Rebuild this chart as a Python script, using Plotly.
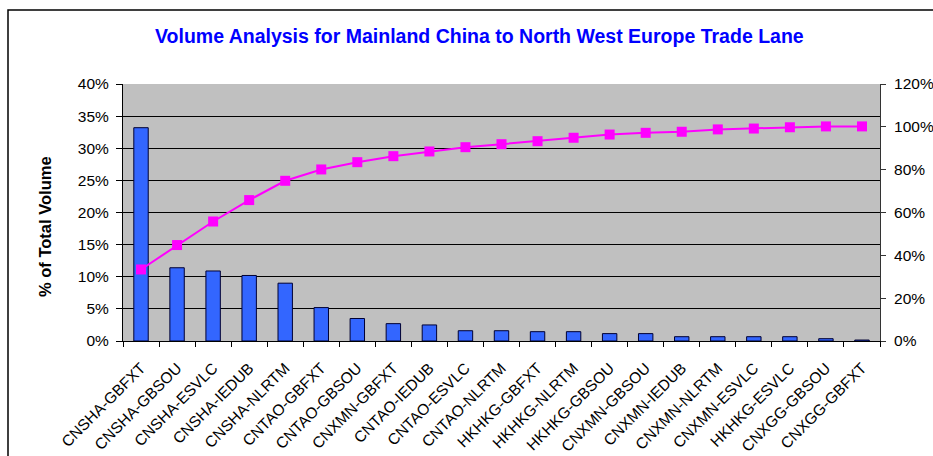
import plotly.graph_objects as go

categories = ["CNSHA-GBFXT", "CNSHA-GBSOU", "CNSHA-ESVLC", "CNSHA-IEDUB", "CNSHA-NLRTM",
              "CNTAO-GBFXT", "CNTAO-GBSOU", "CNXMN-GBFXT", "CNTAO-IEDUB", "CNTAO-ESVLC",
              "CNTAO-NLRTM", "HKHKG-GBFXT", "HKHKG-NLRTM", "HKHKG-GBSOU", "CNXMN-GBSOU",
              "CNXMN-IEDUB", "CNXMN-NLRTM", "CNXMN-ESVLC", "HKHKG-ESVLC", "CNXGG-GBSOU",
              "CNXGG-GBFXT"]
share_pct = [33.2, 11.4, 10.9, 10.2, 9.0, 5.2, 3.5, 2.7, 2.5, 1.6, 1.6, 1.45, 1.45,
             1.15, 1.15, 0.67, 0.67, 0.67, 0.67, 0.36, 0.15]
cumulative_pct = [33.4, 44.8, 55.8, 65.8, 74.8, 80.1, 83.5, 86.3, 88.5, 90.5, 91.9,
                  93.3, 94.9, 96.4, 97.2, 97.7, 98.8, 99.2, 99.8, 100.2, 100.2]
left_ticks = [0, 5, 10, 15, 20, 25, 30, 35, 40]
right_ticks = [0, 20, 40, 60, 80, 100, 120]

FONT = "Liberation Sans, Arial, sans-serif"

fig = go.Figure()
fig.add_trace(go.Bar(
    x=categories, y=share_pct, width=0.4,
    marker=dict(color="#3366FF", line=dict(color="#000033", width=1)),
    yaxis="y",
))
fig.add_trace(go.Scatter(
    x=categories, y=cumulative_pct, mode="lines+markers",
    line=dict(color="#FF00FF", width=2),
    marker=dict(symbol="square", size=10, color="#FF00FF"),
    yaxis="y2",
))

W, H = 933, 456
L, R, T, B = 123, 53, 84, 115
pw, ph = W - L - R, H - T - B

def px_x(p):
    return (p - L) / pw

def px_y(p):
    return (H - B - p) / ph

fig.update_layout(
    width=W, height=H,
    margin=dict(l=L, r=R, t=T, b=B, autoexpand=False),
    paper_bgcolor="white",
    plot_bgcolor="#C0C0C0",
    showlegend=False,
    font=dict(family=FONT, color="black", size=15),
    xaxis=dict(
        type="category", tickson="boundaries", ticks="outside", ticklen=5,
        tickcolor="black", tickangle=-45, showline=True, linecolor="black",
        showgrid=False, tickfont=dict(size=15.5), range=[-0.5, 20.5],
        ticklabelstandoff=11, automargin=False,
    ),
    yaxis=dict(
        range=[0, 40], tickvals=left_ticks, ticktext=[f"{v}%" for v in left_ticks],
        showgrid=True, gridcolor="black", gridwidth=1, showline=True,
        linecolor="black", ticks="outside", ticklen=6, tickcolor="black",
        zeroline=False, tickfont=dict(size=15.5), ticklabelstandoff=4,
        automargin=False,
    ),
    yaxis2=dict(
        range=[0, 120], tickvals=right_ticks, ticktext=[f"{v}%" for v in right_ticks],
        overlaying="y", side="right", showgrid=False, showline=True,
        linecolor="#333333", ticks="outside", ticklen=5, tickcolor="#333333",
        zeroline=False, tickfont=dict(size=15.5), ticklabelstandoff=5,
        automargin=False,
    ),
    annotations=[
        dict(text="<b>Volume Analysis for Mainland China to North West Europe Trade Lane</b>",
             xref="paper", yref="paper", x=px_x(479), y=px_y(36),
             xanchor="center", yanchor="middle", showarrow=False,
             font=dict(size=19.5, color="#0000FF", family=FONT)),
        dict(text="<b>% of Total Volume</b>", textangle=-90,
             xref="paper", yref="paper", x=px_x(45), y=px_y(227),
             xanchor="center", yanchor="middle", showarrow=False,
             font=dict(size=16.5, color="black", family=FONT)),
    ],
    shapes=[
        dict(type="rect", xref="paper", yref="paper",
             x0=px_x(8), x1=px_x(960), y0=px_y(500), y1=px_y(10),
             line=dict(color="black", width=1.5), fillcolor="rgba(0,0,0,0)",
             layer="below"),
    ],
)

fig.write_html("out.html", config={"displayModeBar": False},
               post_script="document.body.style.margin='0';document.body.style.overflow='hidden';")
